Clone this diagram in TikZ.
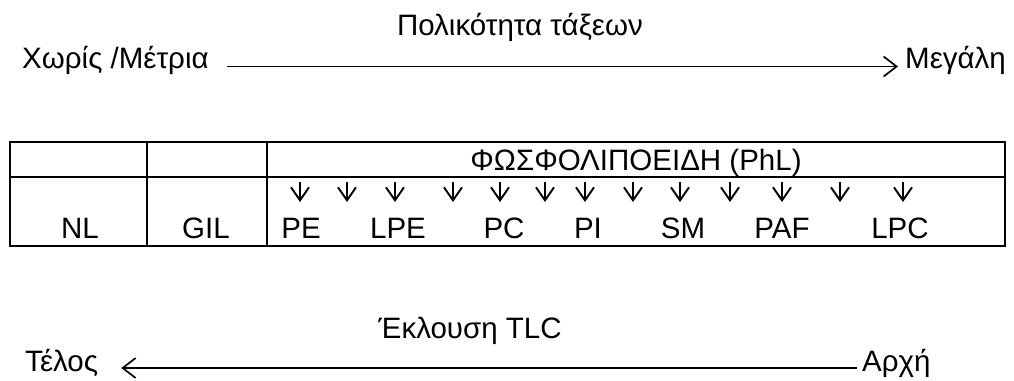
\documentclass[tikz,border=0pt]{standalone}
\usepackage{fontspec}
\setmainfont{Liberation Sans}
\usetikzlibrary{arrows.meta,positioning}

\begin{document}
\begin{tikzpicture}[x=1pt,y=-1pt] % pixel-like grid, y grows downwards
\tikzset{every node/.style={inner sep=0pt, font=\fontsize{29.5}{32}\selectfont}} % same size for every label
\tikzset{bigarrow/.style={-{Straight Barb[length=13pt,width=20pt,line width=1.7pt]}, line width=1.7pt}} % long axis arrows
\tikzset{smallarrow/.style={-{Straight Barb[length=13pt,width=18pt,line width=1.9pt]}, line width=1.9pt}} % little arrows in the table
\tikzset{frame/.style={line width=1.7pt}} % table rules
\useasboundingbox (0,0) rectangle (1014,380);

% polarity axis on top
\node[anchor=base] (polar) at (520,35) {Πολικότητα τάξεων};
\node[anchor=base west] (low) at (22,68) {Χωρίς /Μέτρια};
\node[anchor=base west] (high) at (905,68) {Μεγάλη};
\draw[bigarrow, shorten <=18pt, shorten >=7pt] ([yshift=1.5pt]low.base east) -- ([yshift=1.5pt]high.base west);

% the table
\draw[frame] (10,142) rectangle (1005,246);
\draw[frame] (10,177) -- (1005,177);
\draw[frame] (147,142) -- (147,246);
\draw[frame] (267,142) -- (267,246);

\node[anchor=base] (phl) at (636,170) {ΦΩΣΦΟΛΙΠΟΕΙΔΗ (PhL)};
\foreach \x/\name/\txt in {80/nl/NL, 206/gil/GIL, 301/pe/PE, 398/lpe/LPE, 504/pc/PC, 588/pi/PI, 683/sm/SM, 782/paf/PAF, 900/lpc/LPC}
  \node[anchor=base] (\name) at (\x,238) {\txt};

% spots on the plate
\foreach \x [count=\i] in {300,347,395,453,500,545,585,633,680,730,782,840,903}
  {\coordinate (spot\i) at (\x,182); \draw[smallarrow] (spot\i) -- ++(0,20);}

% elution axis at the bottom
\node[anchor=base] (elution) at (470,338) {Έκλουση TLC};
\node[anchor=base west] (finish) at (25,371) {Τέλος};
\node[anchor=base west] (start) at (862,371) {Αρχή};
\draw[bigarrow, shorten <=5pt, shorten >=23pt] ([yshift=3pt]start.base west) -- ([yshift=3pt]finish.base east);
\end{tikzpicture}
\end{document}
